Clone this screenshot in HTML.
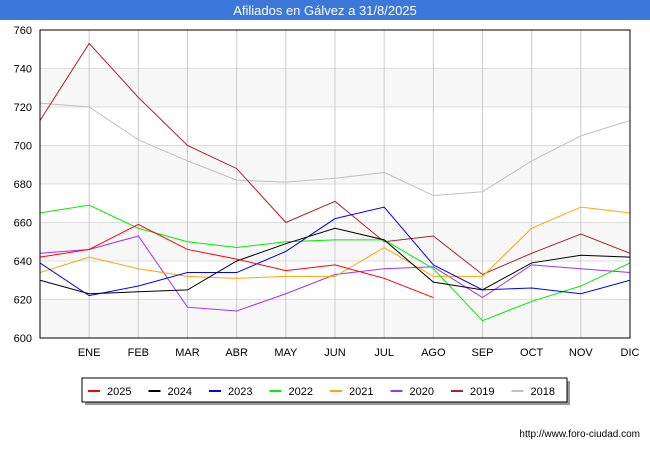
<!DOCTYPE html>
<html><head><meta charset="utf-8"><style>
body{margin:0;width:650px;height:450px;background:#fff;font-family:"Liberation Sans",sans-serif;overflow:hidden}
</style></head><body>
<svg width="650" height="450" xmlns="http://www.w3.org/2000/svg">
<rect x="0" y="0" width="650" height="20" fill="#3b78d9"/>
<text x="325" y="15" text-anchor="middle" font-size="13" fill="#fff">Afiliados en Gálvez a 31/8/2025</text>
<g id="bands"></g><g id="grid"></g><g id="series"></g><g id="axes"></g>
<g>
<rect x="85" y="381" width="485" height="24" fill="#999"/>
<rect x="82" y="378" width="485" height="24" fill="#fff" stroke="#000" stroke-width="1"/>
<g id="legend"></g>
</g>
<text x="640" y="437" text-anchor="end" font-size="10" fill="#000">http://www.foro-ciudad.com</text>
</svg>
<script>
const months=["","ENE","FEB","MAR","ABR","MAY","JUN","JUL","AGO","SEP","OCT","NOV","DIC"];
const yTicks=[600,620,640,660,680,700,720,740,760];
const seriesNames=["2025","2024","2023","2022","2021","2020","2019","2018"];
const seriesColors=["#ff0000","#000000","#0000ff","#00ee00","#ffa500","#9933ff","#aa2222","#c0c0c0"];
const s2025=[642,646,659,646,641,635,638,631,621];
const s2024=[630,623,624,625,640,649,657,651,629,625,639,643,642];
const s2023=[639,622,627,634,634,645,662,668,638,625,626,623,630];
const s2022=[665,669,657,650,647,650,651,651,636,609,619,627,639];
const s2021=[634,642,636,632,631,632,632,647,632,632,657,668,665];
const s2020=[644,646,653,616,614,623,633,636,637,621,638,636,634];
const s2019=[713,753,725,700,688,660,671,650,653,633,644,654,644];
const s2018=[722,720,703,692,682,681,683,686,674,676,692,705,713];
const seriesData=[s2025,s2024,s2023,s2022,s2021,s2020,s2019,s2018];
const NS="http://www.w3.org/2000/svg";
const L=40,R=630,T=30,B=338,ymin=600,ymax=760;
const xs=i=>L+(R-L)*i/12;
const ys=v=>B-(v-ymin)/(ymax-ymin)*(B-T);
function mk(tag,at,parent){const e=document.createElementNS(NS,tag);for(const k in at)e.setAttribute(k,at[k]);parent.appendChild(e);return e;}
const bands=document.getElementById('bands'),grid=document.getElementById('grid'),ser=document.getElementById('series'),axes=document.getElementById('axes'),leg=document.getElementById('legend');
for(let i=0;i<yTicks.length-1;i+=2){const r=mk('rect',{x:L,y:ys(yTicks[i+1]),width:R-L,height:ys(yTicks[i])-ys(yTicks[i+1]),fill:'#f7f7f7'},bands);

}
yTicks.forEach(v=>{const l=mk('line',{x1:L,x2:R,y1:ys(v),y2:ys(v),stroke:'#ddd','stroke-width':1},grid);


const t=mk('text',{x:L-8,y:ys(v)+4,'text-anchor':'end','font-size':11,fill:'#000'},axes);t.textContent=v;

});
months.forEach((m,i)=>{if(i>0){const l=mk('line',{x1:xs(i),x2:xs(i),y1:T,y2:B,stroke:'#ccc','stroke-width':1},grid);

}
const t=mk('text',{x:xs(i),y:B+18,'text-anchor':'middle','font-size':11,fill:'#000'},axes);t.textContent=m;

});
const fr=mk('rect',{x:L,y:T,width:R-L,height:B-T,fill:'none',stroke:'#000','stroke-width':1},axes);


for(let k=seriesData.length-1;k>=0;k--){const d=seriesData[k];
const p=mk('polyline',{points:d.map((v,i)=>xs(i)+','+ys(v)).join(' '),fill:'none',stroke:seriesColors[k],'stroke-width':1},ser);

}
seriesNames.forEach((n,k)=>{const x0=88+k*60.5;
const l=mk('line',{x1:x0,x2:x0+12,y1:391,y2:391,stroke:seriesColors[k],'stroke-width':2},leg);


const t=mk('text',{x:x0+19,y:395,'font-size':11,fill:'#000'},leg);t.textContent=n;

});
</script>
</body></html>
